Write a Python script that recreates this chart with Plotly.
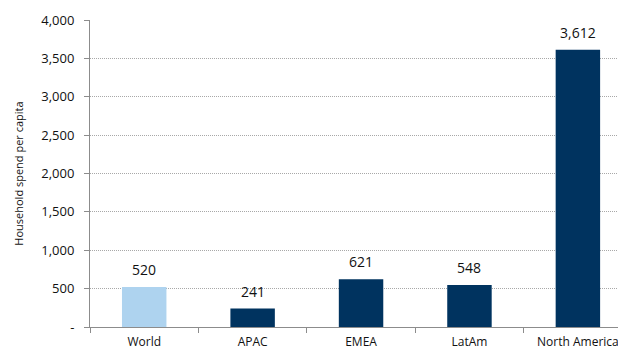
import plotly.graph_objects as go

regions = ["World", "APAC", "EMEA", "LatAm", "North America"]
spend = [520, 241, 621, 548, 3612]
bar_colors = ["#AED3EF", "#00335F", "#00335F", "#00335F", "#00335F"]
y_ticks = [0, 500, 1000, 1500, 2000, 2500, 3000, 3500, 4000]
y_tick_text = ["-", "500", "1,000", "1,500", "2,000", "2,500", "3,000", "3,500", "4,000"]

font_family = "Open Sans"

fig = go.Figure(
    go.Bar(
        x=regions,
        y=spend,
        marker=dict(color=bar_colors, line=dict(width=0)),
        width=0.41,
        hoverinfo="skip",
    )
)

for r, v in zip(regions, spend):
    fig.add_annotation(
        x=r, y=v, text=f"{v:,}", showarrow=False,
        yanchor="bottom", yshift=6,
        font=dict(size=14, color="#111111", family=font_family),
    )

fig.update_layout(
    width=618,
    height=350,
    margin=dict(l=90, r=0, t=20, b=23),
    plot_bgcolor="white",
    paper_bgcolor="white",
    font=dict(family=font_family, size=12, color="#111111"),
    showlegend=False,
)

fig.update_xaxes(
    type="category",
    range=[-0.5, 4.37],
    showline=True, linecolor="#8c8c8c", linewidth=1,
    ticks="outside", tickson="boundaries", ticklen=5, tickcolor="#8c8c8c",
    showgrid=False,
    tickfont=dict(size=12),
    ticklabelstandoff=4,
    automargin=False,
)

fig.update_yaxes(
    range=[0, 4000],
    tickvals=y_ticks,
    ticktext=y_tick_text,
    showline=True, linecolor="#8c8c8c", linewidth=1,
    ticks="outside", ticklen=5, tickcolor="#8c8c8c",
    showgrid=True, gridcolor="#a8a8a8", griddash="1px,1px", gridwidth=1,
    zeroline=False,
    tickfont=dict(size=13),
    ticklabelstandoff=7,
    automargin=False,
    title=dict(text="Household spend per capita", font=dict(size=11), standoff=15),
)

fig.write_html("out.html")
